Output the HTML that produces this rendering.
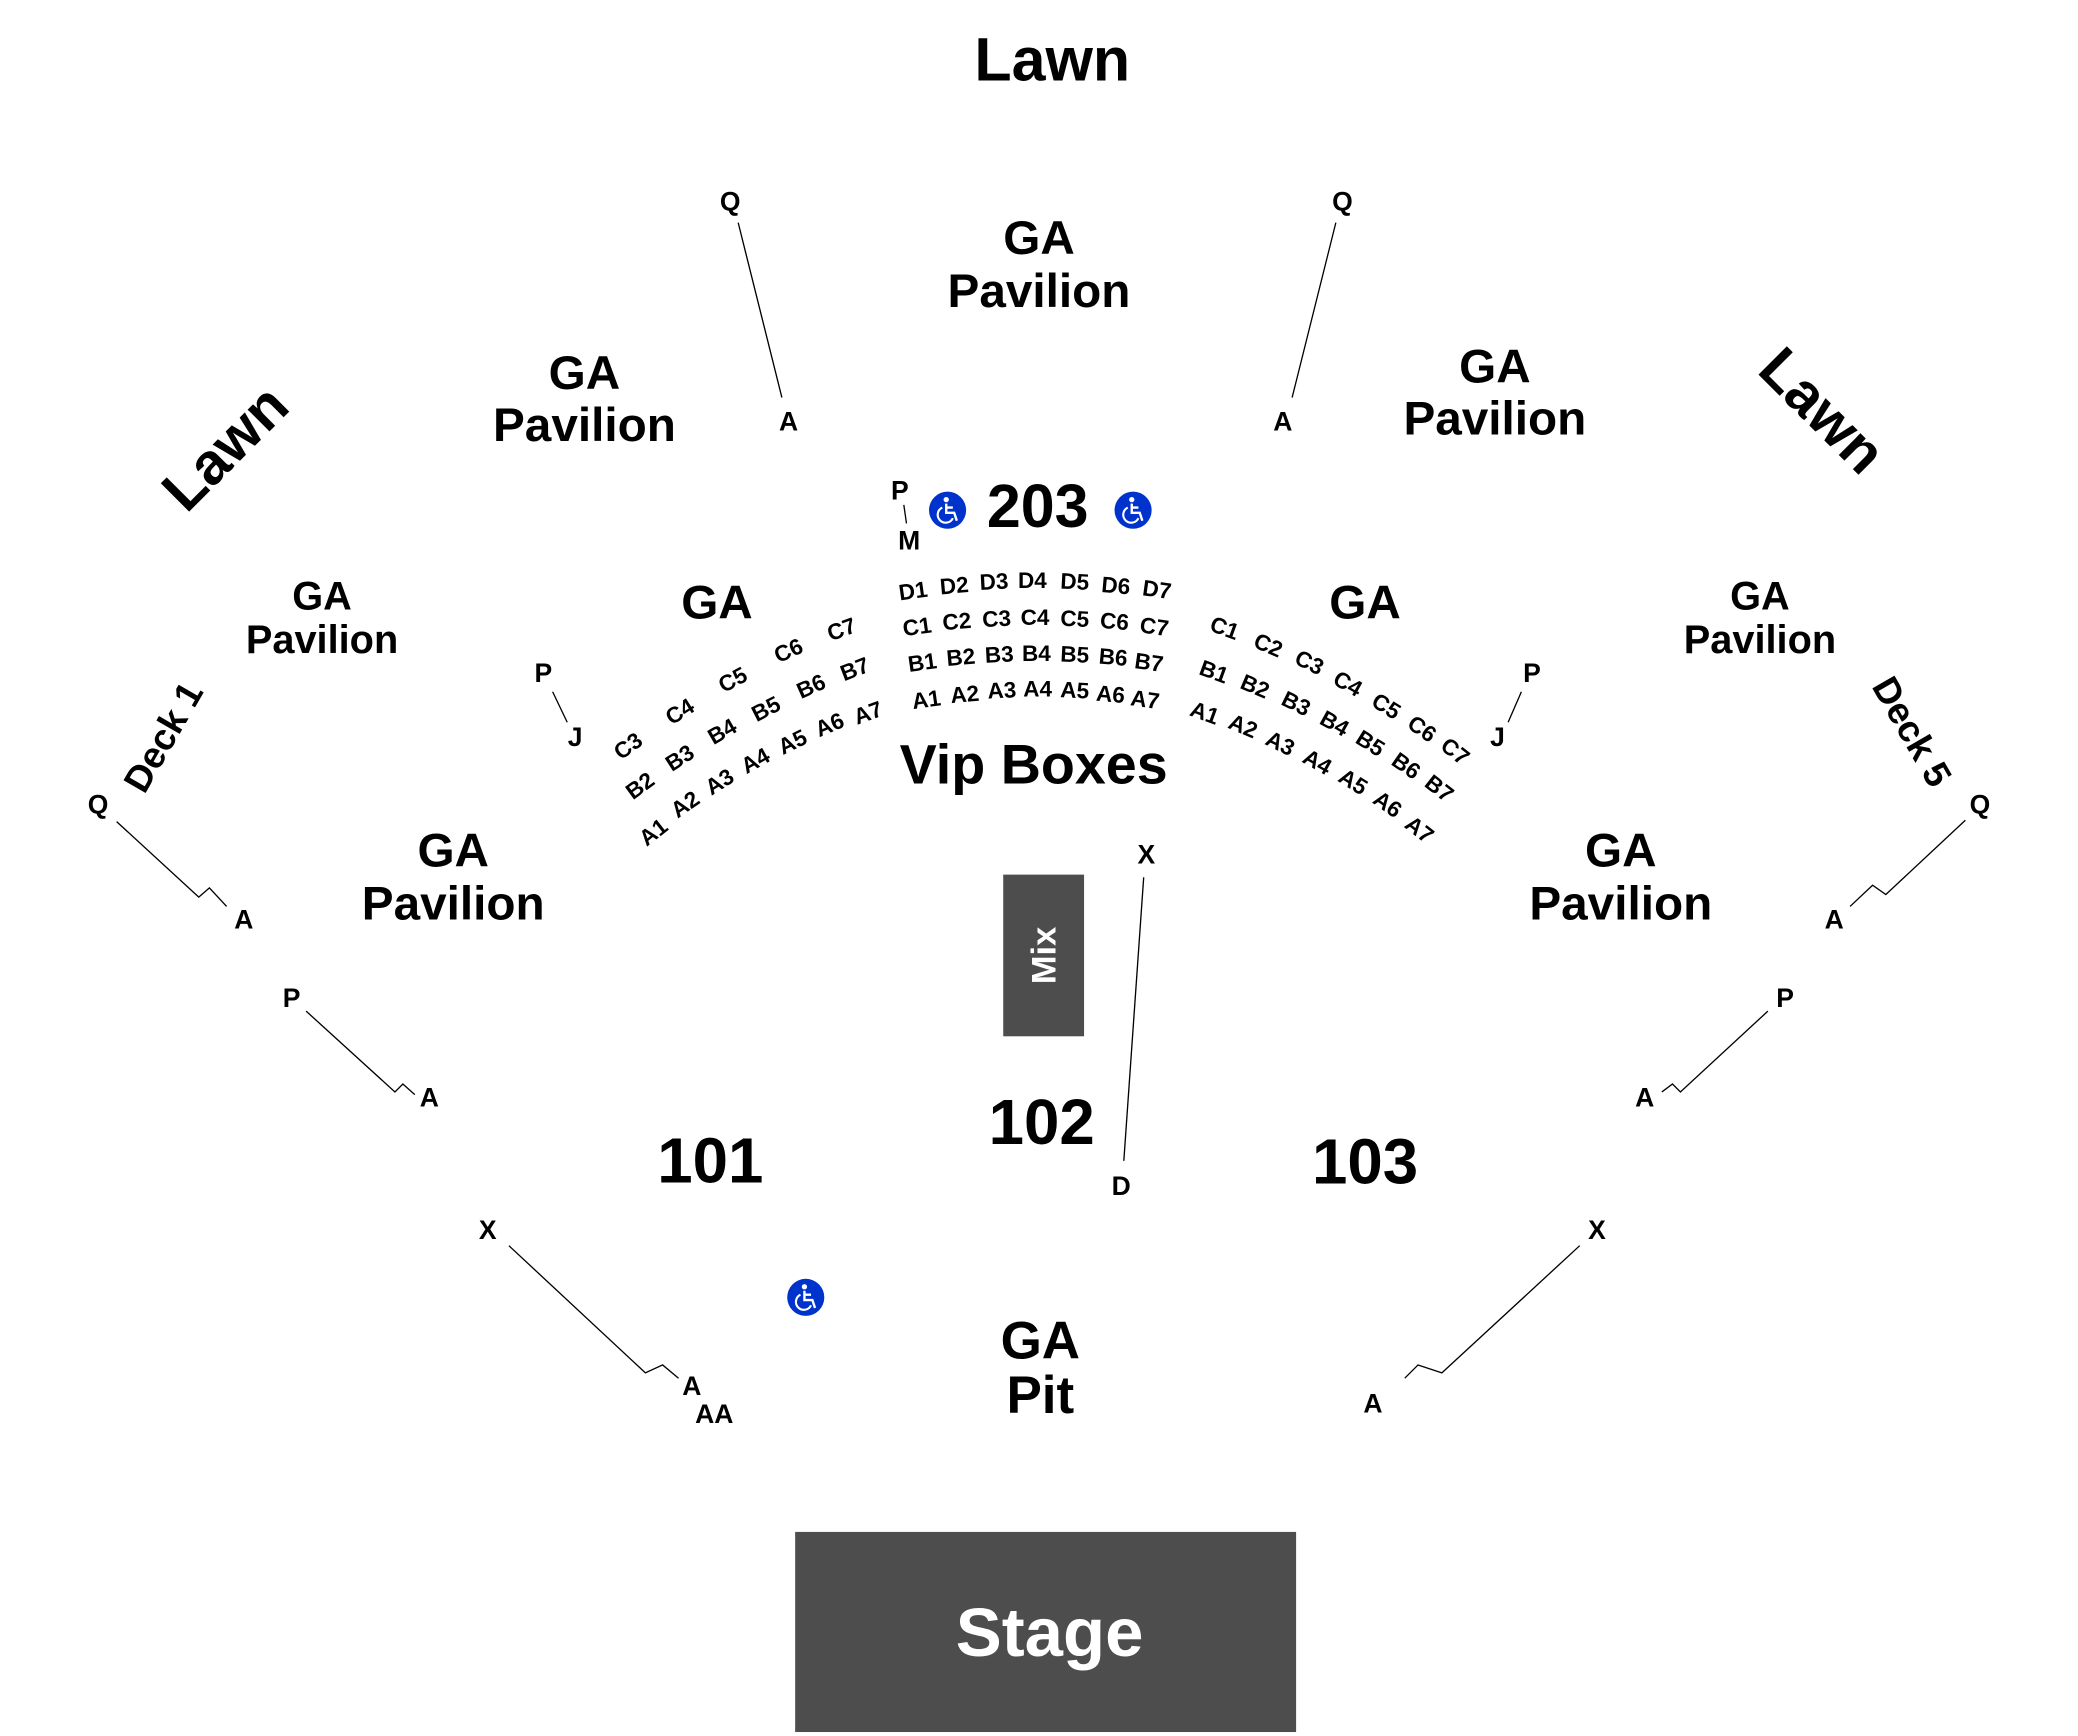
<!DOCTYPE html>
<html><head><meta charset="utf-8"><style>
html,body{margin:0;padding:0;background:#fff;}
svg{display:block;}
text{font-family:"Liberation Sans",Arial,sans-serif;font-weight:bold;fill:#000;text-anchor:middle;dominant-baseline:central;}
.s{font-size:17px;}
.m{font-size:20px;}
.L{font-size:36px;}
.N{font-size:48px;}
line,polyline{stroke:#000;stroke-width:1;fill:none;}
</style></head><body>
<svg width="2078" height="1736" viewBox="0 0 1568 1310" preserveAspectRatio="none" xmlns="http://www.w3.org/2000/svg">
<defs>
<g id="wc">
<circle r="14" fill="#0033cc"/>
<circle cx="-1" cy="-8" r="2" fill="#fff"/>
<path d="M-1,-5 L-1,2 L5,2 L7,8 M-1,-2 L4,-2" stroke="#fff" stroke-width="1.8" fill="none"/>
<path d="M-4,-2 A6,6 0 1 0 4,6" stroke="#fff" stroke-width="1.6" fill="none"/>
</g>
</defs>

<text x="794" y="45" style="font-size:46px">Lawn</text>
<text x="784" y="180" class="L">GA</text>
<text x="784" y="220" class="L">Pavilion</text>
<text x="441" y="282" class="L">GA</text>
<text x="441" y="321" class="L">Pavilion</text>
<text x="1128" y="277" class="L">GA</text>
<text x="1128" y="316" class="L">Pavilion</text>
<text transform="translate(170,338) rotate(-45)" style="font-size:44px">Lawn</text>
<text transform="translate(1375,310) rotate(45)" style="font-size:44px">Lawn</text>
<text x="243" y="450" style="font-size:30px">GA</text>
<text x="243" y="483" style="font-size:30px">Pavilion</text>
<text x="1328" y="450" style="font-size:30px">GA</text>
<text x="1328" y="483" style="font-size:30px">Pavilion</text>
<text transform="translate(123,556) rotate(-60)" style="font-size:28px">Deck 1</text>
<text transform="translate(1443,552) rotate(60)" style="font-size:28px">Deck 5</text>
<text x="541" y="455" class="L">GA</text>
<text x="1030" y="455" class="L">GA</text>
<text x="783" y="382" style="font-size:46px">203</text>
<text x="780" y="577" style="font-size:42px">Vip Boxes</text>
<text x="342" y="642" class="L">GA</text>
<text x="342" y="682" class="L">Pavilion</text>
<text x="1223" y="642" class="L">GA</text>
<text x="1223" y="682" class="L">Pavilion</text>
<text x="536" y="876" class="N">101</text>
<text x="786" y="847" class="N">102</text>
<text x="1030" y="877" class="N">103</text>
<text x="785" y="1012" style="font-size:40px">GA</text>
<text x="785" y="1053" style="font-size:40px">Pit</text>

<use href="#wc" x="715" y="385"/>
<use href="#wc" x="855" y="385"/>
<use href="#wc" x="608" y="979"/>

<rect x="757" y="660" width="61" height="122" fill="#4d4d4d"/>
<text transform="translate(788,721) rotate(-90)" style="font-size:26px;fill:#fff">Mix</text>
<rect x="600" y="1156" width="378" height="151" fill="#4d4d4d"/>
<text x="792" y="1232" style="font-size:52px;fill:#fff">Stage</text>

<text x="551" y="152" class="m">Q</text><line x1="557" y1="168" x2="590" y2="300"/><text x="595" y="318" class="m">A</text>
<text x="1013" y="152" class="m">Q</text><line x1="1008" y1="168" x2="975" y2="300"/><text x="968" y="318" class="m">A</text>
<text x="74" y="607" class="m">Q</text><polyline points="88,620 150,677 158,670 171,684"/><text x="184" y="694" class="m">A</text>
<text x="220" y="753" class="m">P</text><polyline points="231,763 298,824 304,818 313,826"/><text x="324" y="828" class="m">A</text>
<text x="368" y="928" class="m">X</text><polyline points="384,940 487,1036 500,1030 512,1040"/><text x="522" y="1046" class="m">A</text><text x="539" y="1067" class="m">AA</text>
<text x="1494" y="607" class="m">Q</text><polyline points="1483,619 1423,675 1413,668 1396,684"/><text x="1384" y="694" class="m">A</text>
<text x="1347" y="753" class="m">P</text><polyline points="1334,763 1268,824 1262,818 1254,824"/><text x="1241" y="828" class="m">A</text>
<text x="1205" y="928" class="m">X</text><polyline points="1192,940 1088,1036 1070,1030 1060,1040"/><text x="1036" y="1059" class="m">A</text>
<text x="865" y="645" class="m">X</text><line x1="863" y1="662" x2="848" y2="876"/><text x="846" y="895" class="m">D</text>
<text x="410" y="508" class="m">P</text><line x1="417" y1="522" x2="428" y2="545"/><text x="434" y="556" class="m">J</text>
<text x="1156" y="508" class="m">P</text><line x1="1148" y1="522" x2="1138" y2="545"/><text x="1130" y="556" class="m">J</text>
<text x="679" y="370" class="m">P</text><line x1="682" y1="381" x2="684" y2="395"/><text x="686" y="408" class="m">M</text>

<text class="s" transform="translate(493,628) rotate(-38)">A1</text>
<text class="s" transform="translate(517,607) rotate(-35)">A2</text>
<text class="s" transform="translate(543,590) rotate(-32)">A3</text>
<text class="s" transform="translate(570,574) rotate(-29)">A4</text>
<text class="s" transform="translate(598,560) rotate(-26)">A5</text>
<text class="s" transform="translate(626,547) rotate(-23)">A6</text>
<text class="s" transform="translate(655,538) rotate(-20)">A7</text>
<text class="s" transform="translate(483,593) rotate(-36)">B2</text>
<text class="s" transform="translate(513,572) rotate(-33)">B3</text>
<text class="s" transform="translate(545,552) rotate(-30)">B4</text>
<text class="s" transform="translate(578,535) rotate(-27)">B5</text>
<text class="s" transform="translate(612,518) rotate(-24)">B6</text>
<text class="s" transform="translate(645,505) rotate(-21)">B7</text>
<text class="s" transform="translate(474,563) rotate(-36)">C3</text>
<text class="s" transform="translate(513,537) rotate(-32)">C4</text>
<text class="s" transform="translate(553,513) rotate(-28)">C5</text>
<text class="s" transform="translate(595,491) rotate(-24)">C6</text>
<text class="s" transform="translate(635,475) rotate(-20)">C7</text>

<text class="s" transform="translate(689,446) rotate(-8)">D1</text>
<text class="s" transform="translate(720,442) rotate(-5)">D2</text>
<text class="s" transform="translate(750,439) rotate(-3)">D3</text>
<text class="s" transform="translate(779,438)">D4</text>
<text class="s" transform="translate(811,439) rotate(3)">D5</text>
<text class="s" transform="translate(842,442) rotate(5)">D6</text>
<text class="s" transform="translate(873,445) rotate(8)">D7</text>
<text class="s" transform="translate(692,473) rotate(-8)">C1</text>
<text class="s" transform="translate(722,469) rotate(-5)">C2</text>
<text class="s" transform="translate(752,467) rotate(-3)">C3</text>
<text class="s" transform="translate(781,466)">C4</text>
<text class="s" transform="translate(811,467) rotate(3)">C5</text>
<text class="s" transform="translate(841,469) rotate(5)">C6</text>
<text class="s" transform="translate(871,473) rotate(8)">C7</text>
<text class="s" transform="translate(696,500) rotate(-8)">B1</text>
<text class="s" transform="translate(725,496) rotate(-5)">B2</text>
<text class="s" transform="translate(754,494) rotate(-3)">B3</text>
<text class="s" transform="translate(782,493)">B4</text>
<text class="s" transform="translate(811,494) rotate(3)">B5</text>
<text class="s" transform="translate(840,496) rotate(5)">B6</text>
<text class="s" transform="translate(867,500) rotate(8)">B7</text>
<text class="s" transform="translate(699,528) rotate(-8)">A1</text>
<text class="s" transform="translate(728,524) rotate(-5)">A2</text>
<text class="s" transform="translate(756,521) rotate(-3)">A3</text>
<text class="s" transform="translate(783,520)">A4</text>
<text class="s" transform="translate(811,521) rotate(3)">A5</text>
<text class="s" transform="translate(838,524) rotate(5)">A6</text>
<text class="s" transform="translate(864,528) rotate(8)">A7</text>

<text class="s" transform="translate(924,474) rotate(20)">C1</text>
<text class="s" transform="translate(957,487) rotate(23)">C2</text>
<text class="s" transform="translate(988,500) rotate(26)">C3</text>
<text class="s" transform="translate(1017,516) rotate(29)">C4</text>
<text class="s" transform="translate(1046,533) rotate(32)">C5</text>
<text class="s" transform="translate(1073,550) rotate(35)">C6</text>
<text class="s" transform="translate(1098,567) rotate(38)">C7</text>
<text class="s" transform="translate(916,507) rotate(20)">B1</text>
<text class="s" transform="translate(947,518) rotate(23)">B2</text>
<text class="s" transform="translate(978,531) rotate(26)">B3</text>
<text class="s" transform="translate(1007,546) rotate(29)">B4</text>
<text class="s" transform="translate(1034,561) rotate(32)">B5</text>
<text class="s" transform="translate(1061,578) rotate(35)">B6</text>
<text class="s" transform="translate(1086,595) rotate(38)">B7</text>
<text class="s" transform="translate(909,538) rotate(20)">A1</text>
<text class="s" transform="translate(938,548) rotate(23)">A2</text>
<text class="s" transform="translate(966,561) rotate(26)">A3</text>
<text class="s" transform="translate(994,575) rotate(29)">A4</text>
<text class="s" transform="translate(1021,590) rotate(32)">A5</text>
<text class="s" transform="translate(1047,607) rotate(35)">A6</text>
<text class="s" transform="translate(1071,626) rotate(38)">A7</text>
</svg>
</body></html>
